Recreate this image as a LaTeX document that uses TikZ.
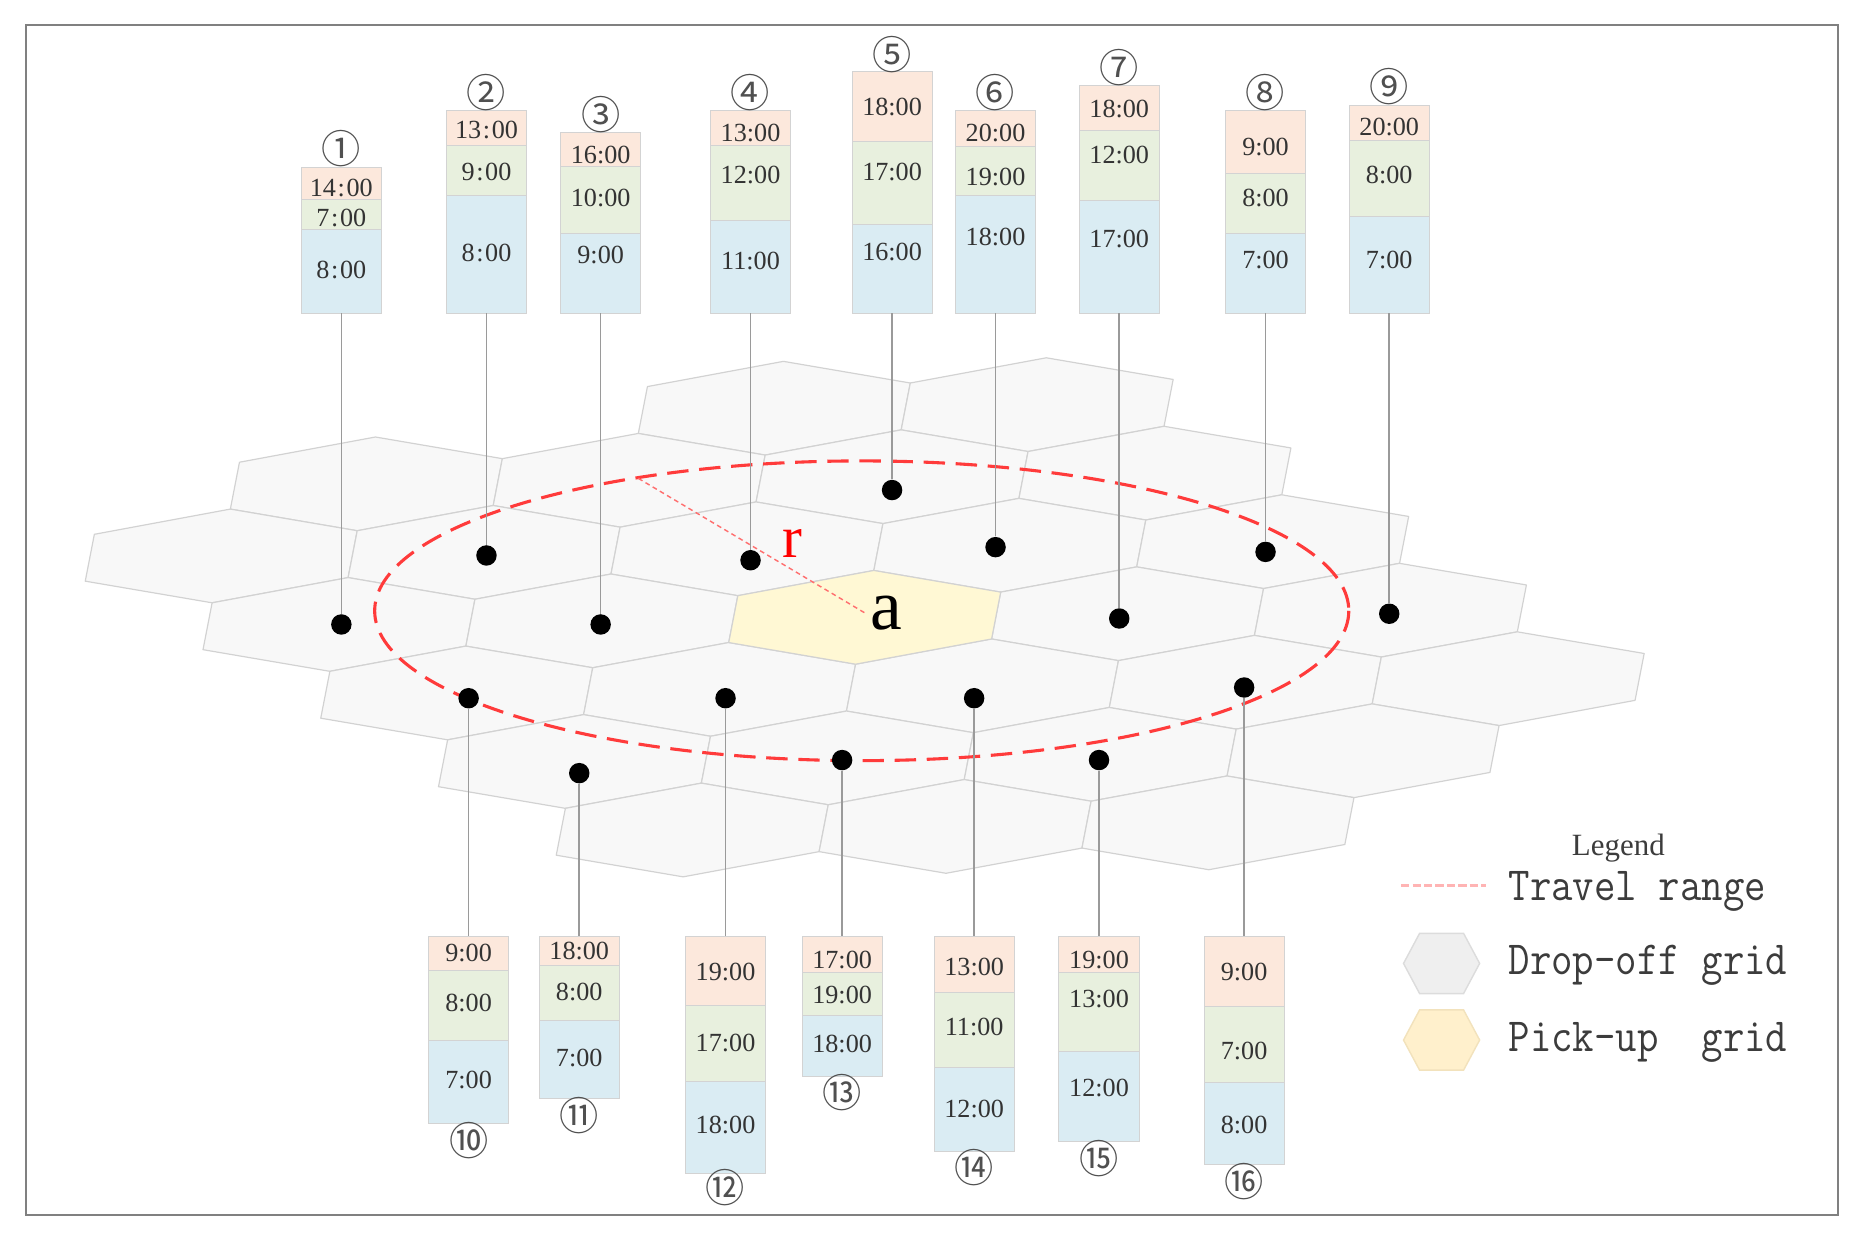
\documentclass[tikz,border=0pt]{standalone}
\usepackage{fontspec}
\setmainfont{Liberation Serif}
\newfontfamily\cjkfont{Noto Sans CJK SC}
\definecolor{hexfill}{HTML}{F8F8F8}
\definecolor{hexline}{HTML}{D2D2D2}
\definecolor{pickfill}{HTML}{FFF8D4}
\definecolor{legdrop}{HTML}{EFEFEF}
\definecolor{legdropline}{HTML}{DCDCDC}
\definecolor{legpick}{HTML}{FFF0CC}
\definecolor{legpickline}{HTML}{F2E2BC}
\definecolor{peach}{HTML}{FCE8DC}
\definecolor{leaf}{HTML}{E8F0DE}
\definecolor{sky}{HTML}{DAECF3}
\definecolor{cellline}{HTML}{D3D3D3}
\definecolor{connline}{HTML}{9A9A9A}
\definecolor{travelred}{HTML}{FF3B3B}
\definecolor{rred}{HTML}{FF6F6F}
\definecolor{legpink}{HTML}{FFB4B4}
\definecolor{timegray}{HTML}{333333}
\definecolor{numgray}{HTML}{505050}
\definecolor{leggray}{HTML}{3C3C3C}
\definecolor{framegray}{HTML}{808080}
\begin{document}
\begin{tikzpicture}[x=0.5pt,y=-0.5pt,
  frame/.style={draw=framegray,line width=1.2pt},
  hexcell/.style={fill=hexfill,draw=hexline,line width=0.5pt,line join=round},
  pickcell/.style={fill=pickfill,draw=hexline,line width=0.5pt,line join=round},
  dot/.style={circle,fill=black,inner sep=0pt,minimum size=8.6pt},
  conn/.style={draw=connline,line width=0.7pt},
  travel/.style={draw=travelred,line width=1.3pt,dash pattern=on 9pt off 4.5pt},
  rline/.style={draw=rred,line width=0.6pt,dash pattern=on 2pt off 1.5pt},
  cellA/.style={fill=peach,draw=cellline,line width=0.4pt},
  cellB/.style={fill=leaf,draw=cellline,line width=0.4pt},
  cellC/.style={fill=sky,draw=cellline,line width=0.4pt},
  timetxt/.style={font=\fontsize{11}{11}\selectfont,text=timegray,inner sep=0pt},
  numlbl/.style={font=\cjkfont\fontsize{16.5}{16.5}\selectfont,text=numgray,inner sep=0pt},
  legtxt/.style={font=\ttfamily\fontsize{20}{20}\selectfont,text=leggray,inner sep=0pt,anchor=base west},
]
\useasboundingbox (0,0) rectangle (1568,1046);
\draw[frame] (21.9,21) rectangle (1545.3,1021.5);

% hexagonal grid
\coordinate (c0) at (727,519);
\begin{scope}[shift={(c0)},x={(110.5pt,1.5pt)},y={(61pt,30.3pt)}]
\foreach \hq/\hr in {-2/3,-1/3,-3/2,-2/2,-1/2,0/2,-3/1,-2/1,-1/1,0/1,1/1,-2/0,-1/0,1/0,2/0,-1/-1,0/-1,1/-1,2/-1,3/-1,0/-2,1/-2,2/-2,3/-2,1/-3,2/-3,3/-3}
  \draw[hexcell] (\hq,\hr) ++(-1/3,2/3) -- ++(2/3,-1/3) -- ++(1/3,-2/3) -- ++(-1/3,-1/3) -- ++(-2/3,1/3) -- ++(-1/3,2/3) -- cycle;
\draw[pickcell] (0,0) ++(-1/3,2/3) -- ++(2/3,-1/3) -- ++(1/3,-2/3) -- ++(-1/3,-1/3) -- ++(-2/3,1/3) -- ++(-1/3,2/3) -- cycle;
\end{scope}

% travel range
\draw[travel] (724.5,513.5) ellipse [x radius=409.5,y radius=126];
\node[font=\fontsize{30}{30}\selectfont,inner sep=2pt] (lbla) at (745.5,515.7) {a};
\coordinate (rs) at (536.7,402.2);
\draw[rline] (rs) -- (lbla.west);
\node[font=\fontsize{25}{25}\selectfont,text=red,inner sep=0pt] (lblr) at (666.5,456.8) {r};

% dots
\foreach \n/\dx/\dy in {1/287/525,2/409/467,3/505/525,4/631/471,5/750/412,6/837/460,7/941/520,8/1064/464,9/1168/516,10/394/587,11/487/650,12/610/587,13/708/639,14/819/587,15/924/639,16/1046/578}
  \node[dot] (d\n) at (\dx,\dy) {};

% upper time stacks
\foreach \n/\cx/\tp/\ya/\yb/\ta/\pa/\tb/\pb/\tc/\pc/\lab/\ly in {
1/287/141/167.6/192.8/{14\kern.7pt:\kern.7pt00}/158.3/{7\kern.7pt:\kern.7pt00}/183.6/{8\kern.7pt:\kern.7pt00}/227/①/125,
2/409/92.5/122.7/164.2/{13\kern.7pt:\kern.7pt00}/109/{9\kern.7pt:\kern.7pt00}/144.3/{8\kern.7pt:\kern.7pt00}/213/②/77.5,
3/505/111.3/139.6/196.2/16:00/130.3/10:00/166.7/9:00/214.4/③/96,
4/631/92.5/122.7/185.5/13:00/112/12:00/147/11:00/219/④/77.5,
5/750/60.3/119.1/188.6/18:00/89.7/17:00/144.3/16:00/211.6/⑤/45.5,
6/837/92.5/123.3/164.5/20:00/112/19:00/149/18:00/199/⑥/77.5,
7/941/72/109.3/168.2/18:00/92/12:00/130.3/17:00/201/⑦/57,
8/1064/92.5/145.7/196.2/9:00/123.3/8:00/166.7/7:00/218.6/⑧/77.5,
9/1168/88.3/117.7/182.2/20:00/107/8:00/147/7:00/218.6/⑨/72.5}
{
  \path[cellA] (\cx-33.7,\tp) rectangle (\cx+33.7,\ya);
  \path[cellB] (\cx-33.7,\ya) rectangle (\cx+33.7,\yb);
  \path[cellC] (\cx-33.7,\yb) rectangle (\cx+33.7,263.4);
  \node[timetxt] (t\n-a) at (\cx,\pa) {\ta};
  \node[timetxt] (t\n-b) at (\cx,\pb) {\tb};
  \node[timetxt] (t\n-c) at (\cx,\pc) {\tc};
  \node[numlbl] (n\n) at (\cx,\ly) {\lab};
  \coordinate (s\n) at (\cx,263.4);
  \draw[conn] (s\n) -- (d\n);
}

% lower time stacks
\foreach \n/\cx/\ya/\yb/\bt/\ta/\pa/\tb/\pb/\tc/\pc/\lab/\ly in {
10/394/816.1/874.4/944.4/9:00/801.5/8:00/843.5/7:00/908/⑩/959,
11/487/811.9/857.6/923.4/18:00/799.3/8:00/833.7/7:00/889.8/⑪/938,
12/610/845/908.9/986.5/19:00/816.9/17:00/876.6/18:00/945.8/⑫/998.5,
13/708/817.8/853.9/904.7/17:00/807.1/19:00/836.5/18:00/877.7/⑬/918.5,
14/819/834.6/897.7/967.7/13:00/812.7/11:00/863.2/12:00/932.7/⑭/982,
15/924/817.5/883.6/959.9/19:00/807.1/13:00/839.9/12:00/914.5/⑮/974,
16/1046/846.4/910.3/978.9/9:00/816.9/7:00/883.3/8:00/945.8/⑯/993}
{
  \path[cellA] (\cx-33.7,787) rectangle (\cx+33.7,\ya);
  \path[cellB] (\cx-33.7,\ya) rectangle (\cx+33.7,\yb);
  \path[cellC] (\cx-33.7,\yb) rectangle (\cx+33.7,\bt);
  \node[timetxt] (t\n-a) at (\cx,\pa) {\ta};
  \node[timetxt] (t\n-b) at (\cx,\pb) {\tb};
  \node[timetxt] (t\n-c) at (\cx,\pc) {\tc};
  \node[numlbl] (n\n) at (\cx,\ly) {\lab};
  \coordinate (s\n) at (\cx,787);
  \draw[conn] (d\n) -- (s\n);
}

% legend
\node[font=\fontsize{13}{13}\selectfont,text=leggray,anchor=base,inner sep=0pt] (legtitle) at (1360.6,719.5) {Legend};
\coordinate (lla) at (1178,744.6);
\coordinate (llb) at (1249.5,744.6);
\draw[draw=legpink,line width=1.5pt,dash pattern=on 3.5pt off 1.3pt] (lla) -- (llb);
\node[legtxt] (legtr) at (1268,756.7) {\scalebox{0.875}[1]{Travel range}};
\draw[fill=legdrop,draw=legdropline,line width=0.6pt] (1180,810) -- (1193.5,784.7) -- (1230.5,784.7) -- (1244,810) -- (1230.5,835.3) -- (1193.5,835.3) -- cycle;
\node[legtxt] (legdr) at (1268,819.7) {\scalebox{0.875}[1]{Drop-off grid}};
\draw[fill=legpick,draw=legpickline,line width=0.6pt] (1180,874.4) -- (1193.5,849.1) -- (1230.5,849.1) -- (1244,874.4) -- (1230.5,899.7) -- (1193.5,899.7) -- cycle;
\node[legtxt] (legpk) at (1268,884.2) {\scalebox{0.875}[1]{Pick-up\ \ grid}};
\end{tikzpicture}
\end{document}
